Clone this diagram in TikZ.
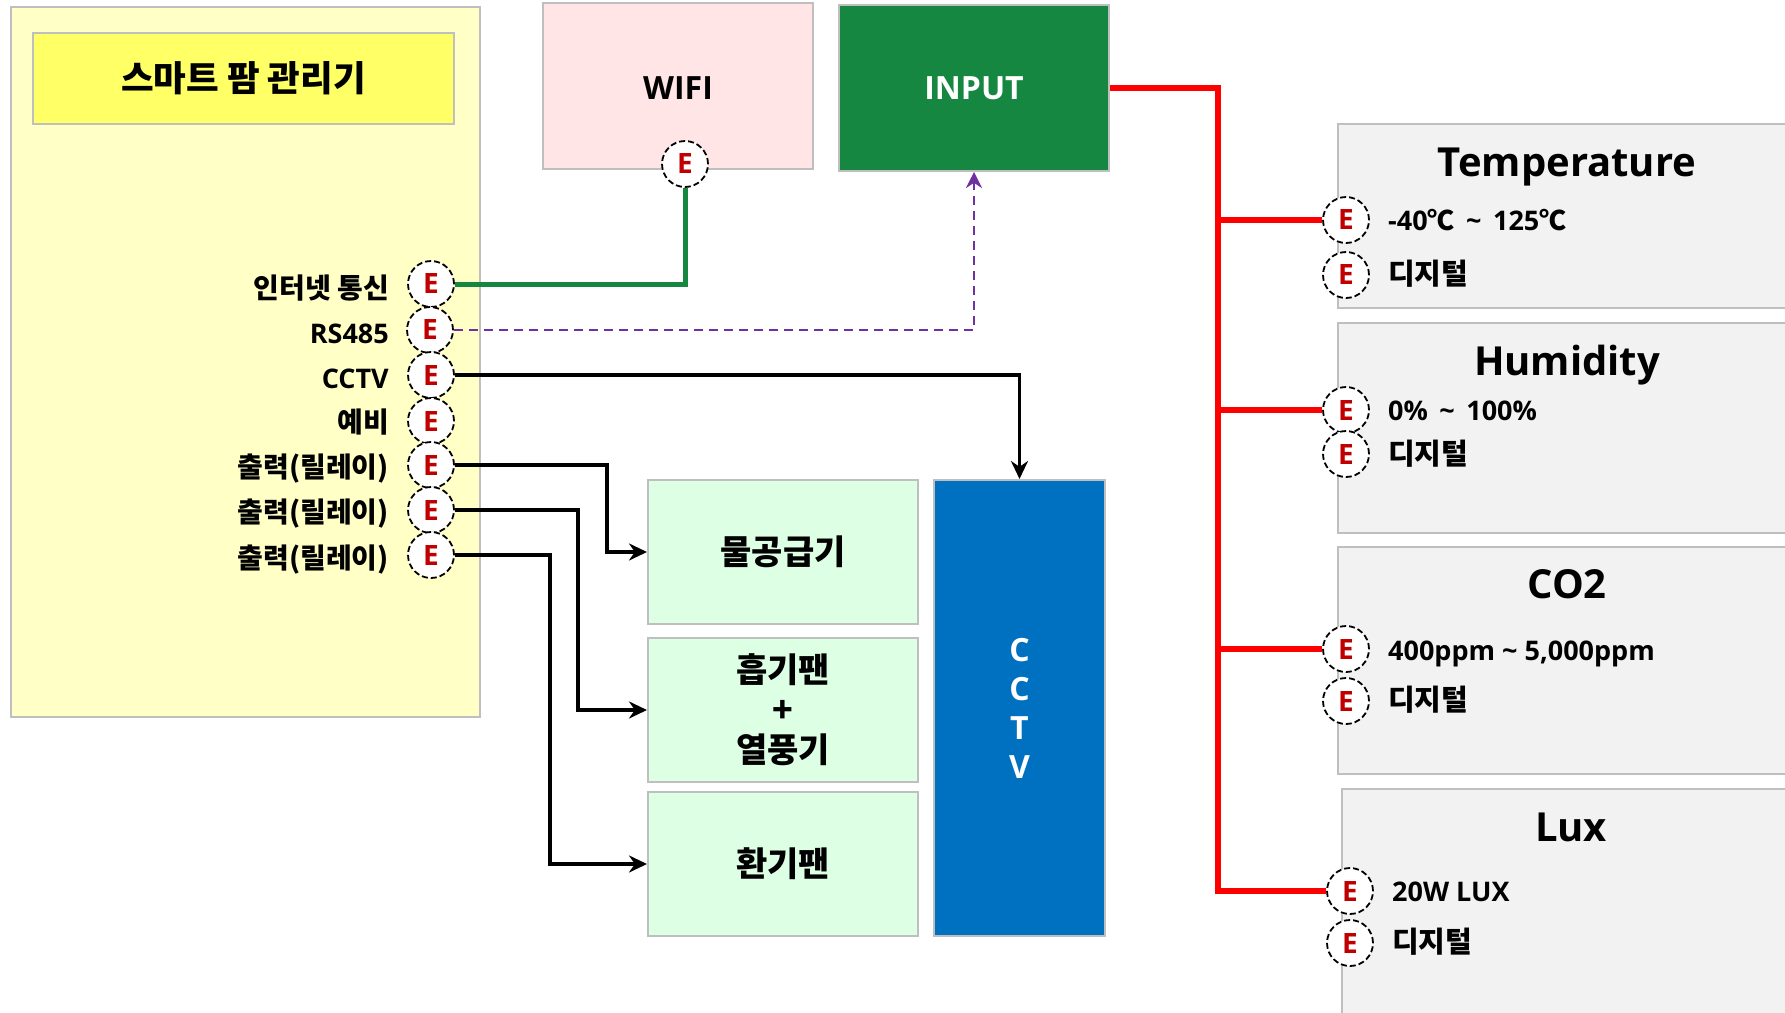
\documentclass[tikz,border=0pt]{standalone}
\usepackage{fontspec}
\setmainfont{Open Sans}
\newfontfamily\kor{Noto Sans CJK KR}
\usetikzlibrary{arrows.meta}
\definecolor{edgeGray}{HTML}{BFBFBF}
\definecolor{panelYellow}{HTML}{FFFFC6}
\definecolor{titleYellow}{HTML}{FFFF66}
\definecolor{wifiPink}{HTML}{FFE5E5}
\definecolor{inputGreen}{HTML}{158741}
\definecolor{loadGreen}{HTML}{DDFFE4}
\definecolor{cctvBlue}{HTML}{0070C0}
\definecolor{sensorGray}{HTML}{F2F2F2}
\definecolor{termRed}{HTML}{C00000}
\definecolor{rsPurple}{HTML}{7030A0}

\begin{document}
\begin{tikzpicture}[
        x=1pt, y=-1pt,
        plainBlock/.style={
            rectangle, draw=edgeGray, line width=2pt, inner sep=0pt,
            align=center, font=\bfseries\fontsize{32}{39}\selectfont
        },
        loadBlock/.style={
            plainBlock, fill=loadGreen, minimum width=270pt, minimum height=144pt,
            font=\kor\bfseries\fontsize{34}{40}\selectfont
        },
        sensorBlock/.style={
            plainBlock, fill=sensorGray, anchor=north west, minimum width=500pt
        },
        sensorTitle/.style={
            font=\bfseries\fontsize{40}{50}\selectfont, inner sep=0pt
        },
        term/.style={
            circle, draw=black, dash pattern=on 6pt off 3pt, fill=white, line width=1.8pt,
            minimum size=46pt, inner sep=0pt, text=termRed,
            font=\bfseries\fontsize{28}{30}\selectfont
        },
        termLabel/.style={
            anchor=base east, inner sep=0pt, font=\bfseries\fontsize{27}{32}\selectfont
        },
        korLabel/.style={
            anchor=base east, inner sep=0pt, font=\kor\bfseries\fontsize{28}{32}\selectfont
        },
        sensorLabel/.style={
            anchor=base west, inner sep=0pt, font=\bfseries\fontsize{27}{32}\selectfont
        },
        sensorType/.style={
            anchor=base west, inner sep=0pt, font=\kor\bfseries\fontsize{29}{32}\selectfont
        },
        blackArrow/.style={
            line width=3.5pt, ->, >={Stealth[length=18pt,width=17pt]}
        },
        redLine/.style={
            draw=red, line width=6pt
        }
    ]
        \clip (0,0) rectangle (1785,1012);
        \useasboundingbox (0,0) rectangle (1785,1012);

        % Left panel
        \node (panel) [plainBlock, fill=panelYellow, minimum width=469pt, minimum height=710pt] at (245.5,362) {};
        \node (title) [plainBlock, fill=titleYellow, minimum width=421pt, minimum height=91pt, font=\kor\bfseries\fontsize{35.5}{40}\selectfont] at (243.5,78.5) {스마트 팜 관리기};

        % Top blocks
        \node (wifi) [plainBlock, fill=wifiPink, minimum width=270pt, minimum height=166pt] at (678,86) {};
        \node (wifiText) [font=\bfseries\fontsize{32}{39}\selectfont, inner sep=0pt] at (678,88) {WIFI};
        \node (input) [plainBlock, fill=inputGreen, text=white, minimum width=270pt, minimum height=166pt] at (974,88) {INPUT};

        % Load blocks
        \node (water) [loadBlock] at (783,552) {물공급기};
        \node (fan) [loadBlock] at (783,710) {흡기팬\\+\\열풍기};
        \node (vent) [loadBlock] at (783,864) {환기팬};
        \node (cctv) [plainBlock, fill=cctvBlue, text=white, minimum width=171pt, minimum height=456pt] at (1019.5,708) {C\\C\\T\\V};

        % Sensor blocks
        \node (tempBox) [sensorBlock, minimum height=184pt] at (1337,123) {};
        \node (humBox) [sensorBlock, minimum height=210pt] at (1337,322) {};
        \node (co2Box) [sensorBlock, minimum height=227pt] at (1337,546) {};
        \node (luxBox) [sensorBlock, minimum height=240pt] at (1341,788) {};
        \node (tempTitle) [sensorTitle] at (1567,167) {Temperature};
        \node (humTitle) [sensorTitle] at (1567,365) {Humidity};
        \node (co2Title) [sensorTitle] at (1567,584) {CO2};
        \node (luxTitle) [sensorTitle] at (1571,827) {Lux};

        % Left terminals
        \node (eNet) [term] at (431,284) {E};
        \node (eRs) [term] at (430,330) {E};
        \node (eCam) [term] at (431,375) {E};
        \node (eSpare) [term] at (431,421) {E};
        \node (eOut1) [term] at (431,465) {E};
        \node (eOut2) [term] at (431,510) {E};
        \node (eOut3) [term] at (431,555) {E};
        \node (eWifi) [term] at (685,164) {E};

        \node (netLabel) [korLabel] at (389,298) {인터넷 통신};
        \node (rsLabel) [termLabel] at (389,343) {RS485};
        \node (camLabel) [termLabel] at (389,388) {CCTV};
        \node (spareLabel) [korLabel] at (389,432) {예비};
        \node (outLabel1) [korLabel] at (389,477) {출력(릴레이)};
        \node (outLabel2) [korLabel] at (389,522) {출력(릴레이)};
        \node (outLabel3) [korLabel] at (389,568) {출력(릴레이)};

        % Right terminals
        \node (eTemp) [term] at (1346,220) {E};
        \node (eTempD) [term] at (1346,275) {E};
        \node (eHum) [term] at (1346,410) {E};
        \node (eHumD) [term] at (1346,454) {E};
        \node (eCo2) [term] at (1346,649) {E};
        \node (eCo2D) [term] at (1346,701) {E};
        \node (eLux) [term] at (1350,891) {E};
        \node (eLuxD) [term] at (1350,943) {E};

        \node (tempRange) [sensorLabel] at (1388,230) {-40{\kor ℃}\, \textasciitilde{}\, 125{\kor ℃}};
        \node (tempType) [sensorType] at (1388,284) {디지털};
        \node (humRange) [sensorLabel] at (1388,420) {0\%\, \textasciitilde{}\, 100\%};
        \node (humType) [sensorType] at (1388,464) {디지털};
        \node (co2Range) [sensorLabel] at (1388,660) {400ppm \textasciitilde{} 5,000ppm};
        \node (co2Type) [sensorType] at (1388,710) {디지털};
        \node (luxRange) [sensorLabel] at (1392,901) {20W LUX};
        \node (luxType) [sensorType] at (1392,952) {디지털};

        % Arrows
        \draw [draw=inputGreen, line width=5pt] (eNet.east) -| (eWifi.south);
        \draw [draw=rsPurple, line width=2.5pt, dash pattern=on 9pt off 6pt, ->, >={Stealth[length=16pt,width=16pt]}] (eRs.east) -| (input.south);
        \draw [blackArrow] (eCam.east) -| (cctv.north);
        \draw [blackArrow] (eOut1.east) -| ([xshift=-40pt]water.west) -- (water.west);
        \draw [blackArrow] (eOut2.east) -| ([xshift=-69pt]fan.west) -- (fan.west);
        \draw [blackArrow] (eOut3.east) -| ([xshift=-97pt]vent.west) -- (vent.west);

        % Red bus
        \coordinate (busTop) at (1218,88);
        \draw [redLine] (input.east) -- (busTop) -- (busTop |- eLux.west) -- (eLux.west);
        \draw [redLine] (busTop |- eTemp.west) -- (eTemp.west);
        \draw [redLine] (busTop |- eHum.west) -- (eHum.west);
        \draw [redLine] (busTop |- eCo2.west) -- (eCo2.west);
    \end{tikzpicture}
\end{document}
